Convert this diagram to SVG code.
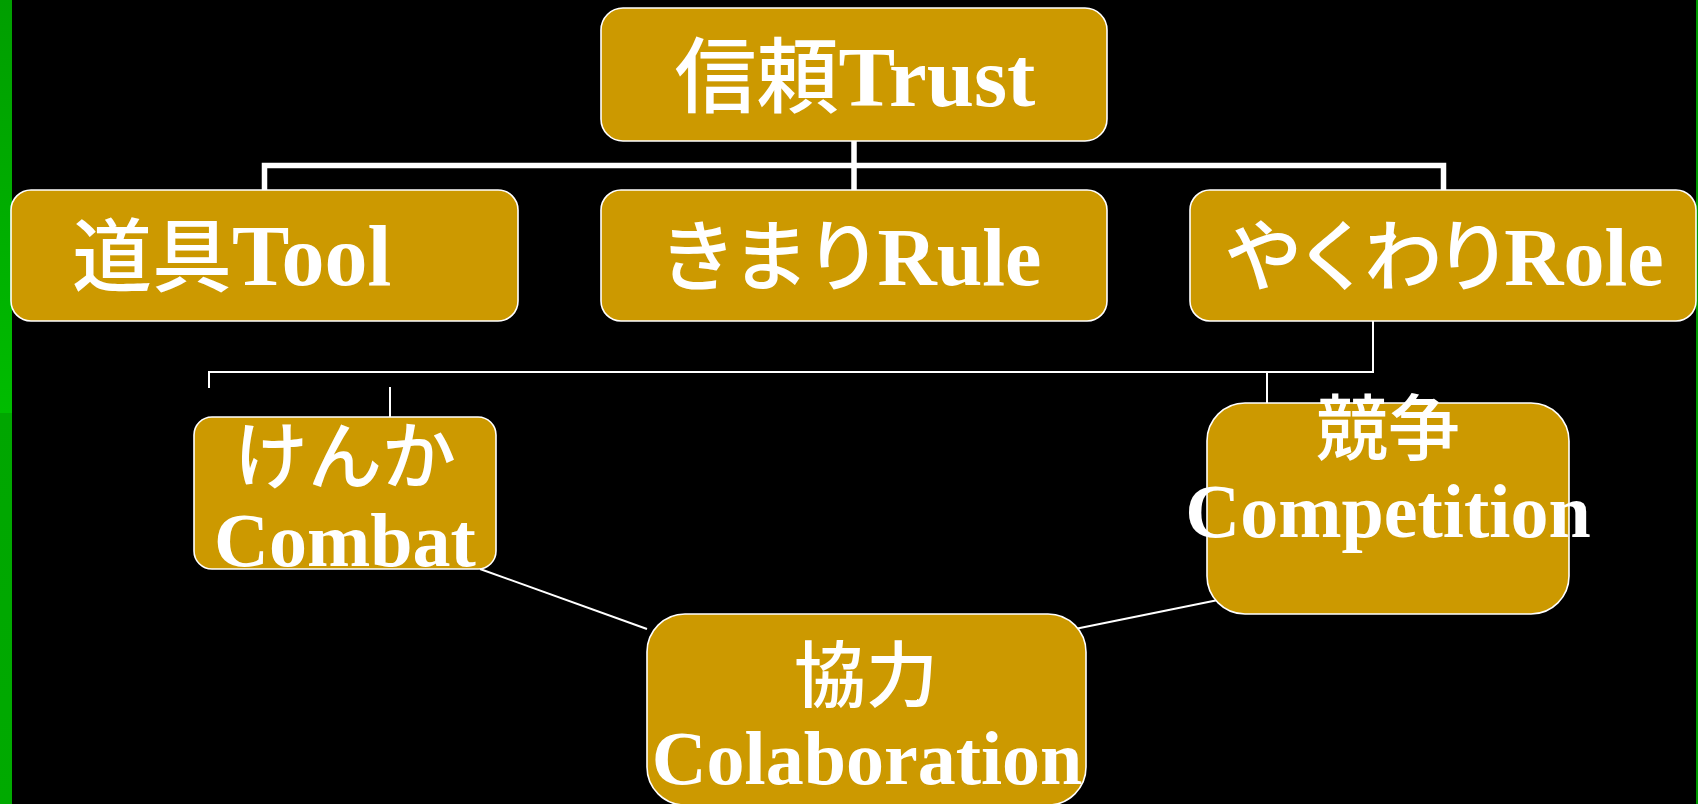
<svg xmlns="http://www.w3.org/2000/svg" width="1698" height="804" viewBox="0 0 1698 804">
<defs>
<linearGradient id="gTop" x1="0" y1="0" x2="0" y2="1"><stop offset="0" stop-color="#009e00"/><stop offset="1" stop-color="#00bc00"/></linearGradient>
<linearGradient id="gBot" x1="0" y1="0" x2="0" y2="1"><stop offset="0" stop-color="#00a600"/><stop offset="1" stop-color="#00aa00"/></linearGradient>
<style>
.box{fill:#cc9900;stroke:#ffffff;stroke-width:1.6}
.t{fill:#ffffff;font-family:"Liberation Serif","Noto Sans CJK JP",serif;font-weight:bold}
.j{font-family:"Noto Sans CJK JP","Noto Sans CJK SC",sans-serif;font-weight:500}
.thick{fill:none;stroke:#ffffff;stroke-width:5.5}
.thin{fill:none;stroke:#ffffff;stroke-width:2}
</style>
</defs>
<rect x="0" y="0" width="1698" height="804" fill="#000000"/>
<rect x="0" y="0" width="12" height="413" fill="url(#gTop)"/>
<rect x="0" y="413" width="12" height="391" fill="url(#gBot)"/>
<rect x="1696" y="0" width="2" height="804" fill="#009a00"/>

<g id="connectors">
<path class="thick" d="M264.5,190 V165.5 H1443.5 V190"/>
<path class="thick" d="M854,141 V190"/>
<path class="thin" d="M209,388 V372 H1373 V312"/>
<path class="thin" d="M390,387 V417"/>
<path class="thin" d="M1267,372 V403"/>
<path class="thin" d="M480,569 L647,629"/>
<path class="thin" d="M1070,630 L1223,599"/>
</g>

<g id="trust">
<rect class="box" x="601" y="8" width="506" height="133" rx="22"/>
<text class="t" x="855" y="106" font-size="85" text-anchor="middle"><tspan class="j" font-size="82">信頼</tspan>Trust</text>
</g>
<g id="tool">
<rect class="box" x="11" y="190" width="507" height="131" rx="20"/>
<text class="t" x="72" y="285" font-size="86"><tspan class="j" font-size="80">道具</tspan>Tool</text>
</g>
<g id="rule">
<rect class="box" x="601" y="190" width="506" height="131" rx="20"/>
<text class="t" x="850" y="285" font-size="82" text-anchor="middle"><tspan class="j" font-size="78" letter-spacing="-5">きまり</tspan>Rule</text>
</g>
<g id="role">
<rect class="box" x="1190" y="190" width="506" height="131" rx="20"/>
<text class="t" x="1444" y="285" font-size="82" text-anchor="middle"><tspan class="j" font-size="78" letter-spacing="-8">やくわり</tspan>Role</text>
</g>
<g id="combat">
<rect class="box" x="194" y="417" width="302" height="152" rx="18"/>
<text class="t j" x="345" y="483" font-size="74" text-anchor="middle">けんか</text>
<text class="t" x="345" y="566" font-size="76" text-anchor="middle">Combat</text>
</g>
<g id="competition">
<rect class="box" x="1207" y="403" width="362" height="211" rx="38"/>
<text class="t j" x="1388" y="454" font-size="72" text-anchor="middle">競争</text>
<text class="t" x="1388" y="537" font-size="76" text-anchor="middle">Competition</text>
</g>
<g id="colaboration">
<rect class="box" x="647" y="614" width="439" height="191" rx="38"/>
<text class="t j" x="866" y="701" font-size="72" text-anchor="middle">協力</text>
<text class="t" x="867" y="784" font-size="76" text-anchor="middle">Colaboration</text>
</g>
</svg>
